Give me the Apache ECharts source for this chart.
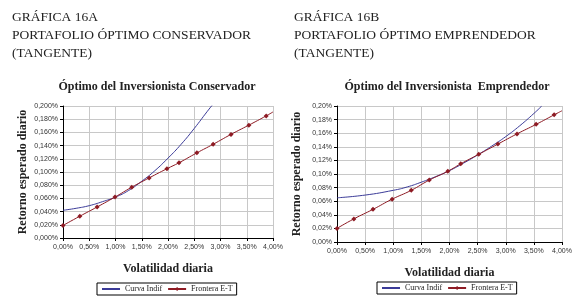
<!DOCTYPE html>
<html>
<head>
<meta charset="utf-8">
<script src="https://cdn.jsdelivr.net/npm/echarts@6/dist/echarts.min.js"></script>
<style>
  body { margin: 0; background: #fff; }
  #chart { width: 580px; height: 305px; }
</style>
</head>
<body>
<div id="chart"></div>
<script>
// volatilidad (%) y retorno (%)
var fronteraX = [0, 0.32, 0.65, 0.99, 1.31, 1.64, 1.98, 2.21, 2.55, 2.86, 3.2, 3.54, 3.87, 4.0];
var fronteraY = [0.019, 0.033, 0.047, 0.062, 0.077, 0.091, 0.105, 0.114, 0.129, 0.142, 0.157, 0.171, 0.185, 0.191];

var indifAX = [0, 0.25, 0.5, 0.75, 1.0, 1.25, 1.5, 1.75, 2.0, 2.25, 2.5, 2.75, 2.84];
var indifAY = [0.042, 0.045, 0.049, 0.055, 0.062, 0.072, 0.086, 0.102, 0.121, 0.142, 0.166, 0.192, 0.201];

var fronteraBX = [0, 0.30, 0.64, 0.98, 1.32, 1.64, 1.97, 2.2, 2.52, 2.86, 3.2, 3.54, 3.86, 4.0];
var fronteraBY = [0.020, 0.034, 0.048, 0.063, 0.076, 0.091, 0.104, 0.115, 0.129, 0.144, 0.159, 0.173, 0.187, 0.193];

var indifBX = [0, 0.5, 1.0, 1.25, 1.5, 1.75, 2.0, 2.25, 2.5, 2.75, 3.0, 3.25, 3.5, 3.64];
var indifBY = [0.065, 0.069, 0.076, 0.081, 0.088, 0.096, 0.105, 0.116, 0.128, 0.141, 0.155, 0.171, 0.189, 0.200];

var xTicks = ['0,00%', '0,50%', '1,00%', '1,50%', '2,00%', '2,50%', '3,00%', '3,50%', '4,00%'];

function pairs(xs, ys, lastNoSymbol) {
    return xs.map(function (x, i) {
        var p = { value: [x, ys[i]] };
        if (lastNoSymbol && i === xs.length - 1) p.symbol = 'none';
        return p;
    });
}

var serif = '"Liberation Serif", "DejaVu Serif", serif';
var sans = '"Liberation Sans", Arial, sans-serif';
var blue = '#3b3b98';
var red = '#8e1b24';

function xAxisCfg(gridIndex) {
    return {
        type: 'value', gridIndex: gridIndex, min: 0, max: 4, interval: 0.5,
        name: 'Volatilidad diaria', nameLocation: 'middle', nameGap: 25,
        nameTextStyle: { fontFamily: serif, fontWeight: 'bold', fontSize: 12, color: '#222' },
        axisLine: { lineStyle: { color: '#000', width: 1 } },
        axisTick: { show: true, length: 3, lineStyle: { color: '#000' } },
        axisLabel: {
            fontFamily: sans, fontSize: 7, color: '#333', margin: 6,
            formatter: function (v) { return xTicks[Math.round(v / 0.5)]; }
        },
        splitLine: { show: true, lineStyle: { color: '#c8c8c8', width: 1 } }
    };
}

function yAxisCfg(gridIndex, decimals) {
    return {
        type: 'value', gridIndex: gridIndex, min: 0, max: 0.2, interval: 0.02,
        name: 'Retorno esperado diario', nameLocation: 'middle', nameGap: 34,
        nameTextStyle: { fontFamily: serif, fontWeight: 'bold', fontSize: 12, color: '#222' },
        axisLine: { show: true, lineStyle: { color: '#000', width: 1 } },
        axisTick: { show: true, length: 3, lineStyle: { color: '#000' } },
        axisLabel: {
            fontFamily: sans, fontSize: 7, color: '#333', margin: 5,
            formatter: function (v) { return v.toFixed(decimals).replace('.', ',') + '%'; }
        },
        splitLine: { show: true, lineStyle: { color: '#c8c8c8', width: 1 } }
    };
}

function lineSeries(name, idx, data, color, withSymbol) {
    return {
        name: name, type: 'line', xAxisIndex: idx, yAxisIndex: idx,
        data: data, smooth: true, clip: true,
        symbol: withSymbol ? 'diamond' : 'none', symbolSize: 5,
        lineStyle: { color: color, width: 1 },
        itemStyle: { color: color },
        animation: false
    };
}

var legendBase = {
    data: [{ name: 'Curva Indif', itemStyle: { opacity: 0 } }, 'Frontera E-T'],
    orient: 'horizontal',
    itemWidth: 18, itemHeight: 5, itemGap: 5,
    padding: [2, 4, 2, 4],
    borderColor: '#000', borderWidth: 1,
    textStyle: { fontFamily: serif, fontSize: 8, color: '#222' }
};

var myChart = echarts.init(document.getElementById('chart'), null, { renderer: 'canvas' });
myChart.setOption({
    backgroundColor: '#fff',
    animation: false,
    title: [
        { text: 'GRÁFICA 16A\nPORTAFOLIO ÓPTIMO CONSERVADOR\n(TANGENTE)', left: 12, top: 8, padding: 0,
          textStyle: { fontFamily: serif, fontWeight: 'normal', fontSize: 13.5, lineHeight: 18, color: '#222' } },
        { text: 'GRÁFICA 16B\nPORTAFOLIO ÓPTIMO EMPRENDEDOR\n(TANGENTE)', left: 294, top: 8, padding: 0,
          textStyle: { fontFamily: serif, fontWeight: 'normal', fontSize: 13.5, lineHeight: 18, color: '#222' } },
        { text: 'Óptimo del Inversionista Conservador', left: 157, top: 81, padding: 0, textAlign: 'center',
          textStyle: { fontFamily: serif, fontWeight: 'bold', fontSize: 12, color: '#222' } },
        { text: 'Óptimo del Inversionista  Emprendedor', left: 447, top: 81, padding: 0, textAlign: 'center',
          textStyle: { fontFamily: serif, fontWeight: 'bold', fontSize: 12, color: '#222' } }
    ],
    legend: [
        Object.assign({}, legendBase, { left: 97, top: 283 }),
        Object.assign({}, legendBase, { left: 377, top: 282 })
    ],
    grid: [
        { left: 63, top: 106, width: 210, height: 132 },
        { left: 337, top: 106, width: 225, height: 136 }
    ],
    xAxis: [xAxisCfg(0), xAxisCfg(1)],
    yAxis: [yAxisCfg(0, 3), yAxisCfg(1, 2)],
    series: [
        lineSeries('Curva Indif', 0, pairs(indifAX, indifAY), blue, false),
        lineSeries('Frontera E-T', 0, pairs(fronteraX, fronteraY, true), red, true),
        lineSeries('Curva Indif', 1, pairs(indifBX, indifBY), blue, false),
        lineSeries('Frontera E-T', 1, pairs(fronteraBX, fronteraBY, true), red, true)
    ]
});
</script>
</body>
</html>
